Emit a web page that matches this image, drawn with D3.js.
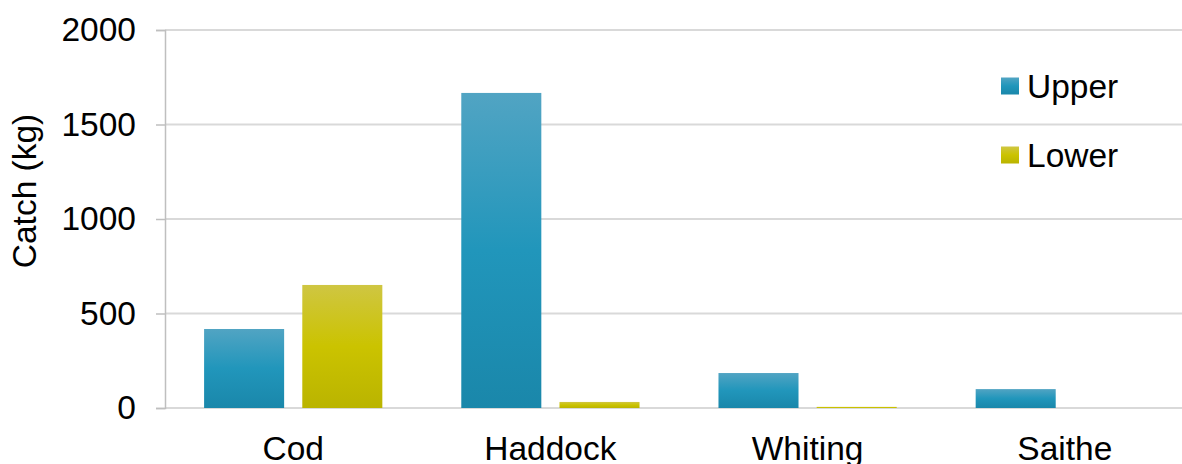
<!DOCTYPE html>
<html>
<head>
<meta charset="utf-8">
<script src="https://cdn.jsdelivr.net/npm/d3@7"></script>
<style>
  body { margin: 0; background: #fff; }
  svg { display: block; font-family: "Liberation Sans", Arial, sans-serif; }
</style>
</head>
<body>
<svg width="1182" height="464"></svg>
<script>
// -- data -- //
const species = ["Cod", "Haddock", "Whiting", "Saithe"];
const seriesNames = ["Upper", "Lower"];
const upper = [418, 1667, 185, 100];
const lower = [651, 32, 6, 0];
const yTicks = [0, 500, 1000, 1500, 2000];

const rows = species.map((s, i) => ({species: s, Upper: upper[i], Lower: lower[i]}));

const width = 1182, height = 464;
const fontSize = "33.5px";
//-- plot area runs a little past the right edge (the original was cropped)
const margin = {top: 30, right: -11, bottom: 56, left: 165};

const svg = d3.select("svg");

const x0 = d3.scaleBand()
    .domain(species)
    .range([margin.left, width - margin.right])
    .paddingInner(0.307)
    .paddingOuter(0.152);

const x1 = d3.scaleBand()
    .domain(seriesNames)
    .range([0, x0.bandwidth()])
    .paddingInner(0.185);

const y = d3.scaleLinear()
    .domain([0, 2000])
    .range([height - margin.bottom, margin.top]);

// gradients like the office fill
const defs = svg.append("defs");
const grads = {
    Upper: ["#51a4c3", "#2196bb", "#1a87aa"],
    Lower: ["#cfc642", "#cbc300", "#bab400"]
};
Object.entries(grads).forEach(([k, c]) => {
    const g = defs.append("linearGradient")
        .attr("id", "g" + k)
        .attr("x1", 0).attr("y1", 0).attr("x2", 0).attr("y2", 1);
    g.append("stop").attr("offset", "0%").attr("stop-color", c[0]);
    g.append("stop").attr("offset", "50%").attr("stop-color", c[1]);
    g.append("stop").attr("offset", "100%").attr("stop-color", c[2]);
});

// grid
svg.append("g")
    .selectAll("line")
    .data(yTicks)
    .join("line")
    .attr("x1", margin.left)
    .attr("x2", width)
    .attr("y1", d => y(d))
    .attr("y2", d => y(d))
    .attr("stroke", "#d9d9d9")
    .attr("stroke-width", 2);

// y axis
const yAxis = g => g
    .attr("transform", `translate(${margin.left},0)`)
    .call(d3.axisLeft(y).tickValues(yTicks).tickFormat(d3.format("d")).tickSize(9).tickPadding(20))
    .call(g => g.selectAll("path.domain").attr("stroke", "#bfbfbf").attr("stroke-width", 1.5))
    .call(g => g.selectAll(".tick line").attr("stroke", "#bfbfbf").attr("stroke-width", 1.5))
    .call(g => g.selectAll(".tick text")
        .attr("fill", "#000")
        .style("font-size", fontSize)
        .style("font-family", "'Liberation Sans', Arial, sans-serif"));

svg.append("g").call(yAxis);

// bars
svg.append("g")
    .selectAll("g")
    .data(rows)
    .join("g")
    .attr("transform", d => `translate(${x0(d.species)},0)`)
    .selectAll("rect")
    .data(d => seriesNames.map(k => ({key: k, value: d[k]})))
    .join("rect")
    .attr("x", d => x1(d.key))
    .attr("width", x1.bandwidth())
    .attr("y", d => y(d.value))
    .attr("height", d => y(0) - y(d.value))
    .attr("fill", d => `url(#g${d.key})`);

// x labels
svg.append("g")
    .selectAll("text")
    .data(species)
    .join("text")
    .attr("x", d => x0(d) + x0.bandwidth() / 2)
    .attr("y", 460)
    .attr("text-anchor", "middle")
    .style("font-size", fontSize)
    .text(d => d);

// y title
svg.append("text")
    .attr("transform", "translate(36,191) rotate(-90)")
    .attr("text-anchor", "middle")
    .style("font-size", fontSize)
    .text("Catch (kg)");

// legend
const legend = svg.append("g")
    .selectAll("g")
    .data(seriesNames)
    .join("g")
    .attr("transform", (d, i) => `translate(1001,${86 + i * 69})`);

legend.append("rect")
    .attr("x", 0)
    .attr("y", -8.5)
    .attr("width", 18)
    .attr("height", 17)
    .attr("fill", d => `url(#g${d})`);

legend.append("text")
    .attr("x", 26)
    .attr("dy", "0.35em")
    .style("font-size", fontSize)
    .text(d => d);
</script>
</body>
</html>
